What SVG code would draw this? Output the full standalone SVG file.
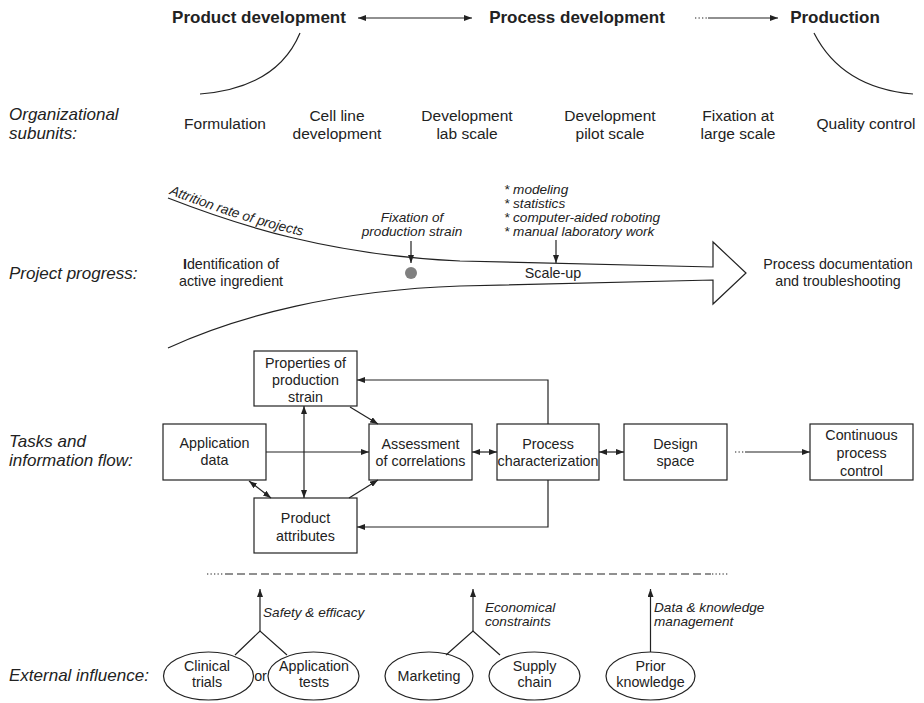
<svg xmlns="http://www.w3.org/2000/svg" width="924" height="703" viewBox="0 0 924 703">
<style>
text{font-family:"Liberation Sans",Arial,sans-serif;fill:#222}
.b{font-weight:bold;font-size:17px}
.lbl{font-style:italic;font-size:17px}
.org{font-size:15.5px;text-anchor:middle}
.t{font-size:14.3px;text-anchor:middle}
.it{font-style:italic;font-size:13.6px}
.itc{font-style:italic;font-size:13.6px;text-anchor:middle}
.ln{fill:none;stroke:#222;stroke-width:1.2}
.box{fill:#fff;stroke:#222;stroke-width:1.2}
.arr{fill:none;stroke:#222;stroke-width:1.2;marker-end:url(#ah)}
.dbl{fill:none;stroke:#222;stroke-width:1.2;marker-end:url(#ah);marker-start:url(#ah)}
.dot{fill:none;stroke:#222;stroke-width:1.2;stroke-dasharray:1.3 2.2}
</style>
<defs>
<marker id="ah" viewBox="0 0 8 6" refX="8" refY="3" markerWidth="8" markerHeight="6" markerUnits="userSpaceOnUse" orient="auto-start-reverse">
<path d="M0,0 L8,3 L0,6 z" fill="#222"/>
</marker>
<path id="attr" d="M169,194 C 241,222 331,251 461,257"/>
</defs>

<!-- Top level -->
<g id="top">
<text class="b" x="259" y="23" text-anchor="middle">Product development</text>
<text class="b" x="577" y="23" text-anchor="middle">Process development</text>
<text class="b" x="835" y="23" text-anchor="middle">Production</text>
<path class="ln" d="M300,33 Q277,88 200,94"/>
<path class="ln" d="M814,33 Q842,88 913,94"/>
</g>

<!-- Left labels -->
<g id="labels">
<text class="lbl" x="9" y="120">Organizational</text>
<text class="lbl" x="9" y="139">subunits:</text>
<text class="lbl" x="9" y="279">Project progress:</text>
<text class="lbl" x="9" y="447">Tasks and</text>
<text class="lbl" x="9" y="466">information flow:</text>
<text class="lbl" x="9" y="681">External influence:</text>
</g>

<!-- Organizational subunits -->
<g id="subunits">
<text class="org" x="225" y="129">Formulation</text>
<text class="org" x="337" y="121">Cell line</text>
<text class="org" x="337" y="139">development</text>
<text class="org" x="467" y="121">Development</text>
<text class="org" x="467" y="139">lab scale</text>
<text class="org" x="610" y="121">Development</text>
<text class="org" x="610" y="139">pilot scale</text>
<text class="org" x="738" y="121">Fixation at</text>
<text class="org" x="738" y="139">large scale</text>
<text class="org" x="866" y="129">Quality control</text>
</g>

<!-- Project progress funnel -->
<g id="funnel">
<path class="ln" d="M168,198 C 240,226 330,255 460,261 L713,267 L713,242 L746,273 L713,304 L713,280 L460,286 C 340,290 240,315 168,348"/>
<text class="it" font-size="14"><textPath href="#attr">Attrition rate of projects</textPath></text>
<text class="t" x="231" y="269"><tspan font-weight="bold">I</tspan>dentification of</text>
<text class="t" x="231" y="286">active ingredient</text>
<text class="itc" x="412" y="221.5">Fixation of</text>
<text class="itc" x="412" y="236">production strain</text>
<circle cx="411" cy="273" r="6" fill="#808080"/>
<text class="it" x="504" y="194">* modeling</text>
<text class="it" x="504" y="208">* statistics</text>
<text class="it" x="504" y="222">* computer-aided roboting</text>
<text class="it" x="504" y="236">* manual laboratory work</text>
<text class="t" x="553" y="278">Scale-up</text>
<text class="t" x="838" y="269">Process documentation</text>
<text class="t" x="838" y="286">and troubleshooting</text>
</g>

<!-- Task nodes -->
<g id="n-properties">
<rect class="box" x="254" y="351" width="103" height="55"/>
<text class="t" x="305.5" y="368">Properties of</text>
<text class="t" x="305.5" y="385">production</text>
<text class="t" x="305.5" y="402">strain</text>
</g>
<g id="n-application">
<rect class="box" x="163" y="424" width="103" height="56"/>
<text class="t" x="214.5" y="448">Application</text>
<text class="t" x="214.5" y="465">data</text>
</g>
<g id="n-assessment">
<rect class="box" x="369" y="424" width="103" height="56"/>
<text class="t" x="420.5" y="449">Assessment</text>
<text class="t" x="420.5" y="466">of correlations</text>
</g>
<g id="n-process">
<rect class="box" x="497" y="424" width="102" height="56"/>
<text class="t" x="548" y="449">Process</text>
<text class="t" x="548" y="466">characterization</text>
</g>
<g id="n-design">
<rect class="box" x="624" y="424" width="103" height="56"/>
<text class="t" x="675.5" y="449">Design</text>
<text class="t" x="675.5" y="466">space</text>
</g>
<g id="n-continuous">
<rect class="box" x="810" y="424" width="103" height="56"/>
<text class="t" x="861.5" y="440">Continuous</text>
<text class="t" x="861.5" y="458">process</text>
<text class="t" x="861.5" y="476">control</text>
</g>
<g id="n-product">
<rect class="box" x="254" y="498" width="103" height="55"/>
<text class="t" x="305.5" y="523">Product</text>
<text class="t" x="305.5" y="541">attributes</text>
</g>

<!-- External influence nodes -->
<g id="n-clinical">
<ellipse class="box" cx="208.5" cy="676" rx="45" ry="24"/>
<text class="t" x="207" y="671">Clinical</text>
<text class="t" x="207" y="687">trials</text>
</g>
<g id="n-apptests">
<ellipse class="box" cx="313.5" cy="676" rx="45.5" ry="24"/>
<text class="t" x="314" y="671">Application</text>
<text class="t" x="314" y="687">tests</text>
</g>
<text class="t" x="260.5" y="681" font-size="13.5">or</text>
<g id="n-marketing">
<ellipse class="box" cx="429" cy="676" rx="44" ry="24"/>
<text class="t" x="429" y="681">Marketing</text>
</g>
<g id="n-supply">
<ellipse class="box" cx="534.5" cy="676" rx="45.5" ry="24"/>
<text class="t" x="534.5" y="671">Supply</text>
<text class="t" x="534.5" y="687">chain</text>
</g>
<g id="n-prior">
<ellipse class="box" cx="650.5" cy="676" rx="44.5" ry="24"/>
<text class="t" x="650.5" y="671">Prior</text>
<text class="t" x="650.5" y="687">knowledge</text>
</g>

<!-- Connectors -->
<g id="connectors">
<path class="dbl" d="M358,18 H472"/>
<path class="dot" d="M695,18 H707"/>
<path class="arr" d="M708,18 H778"/>
<path class="arr" d="M411,241 V263"/>
<path class="arr" d="M556,240 V263"/>
<path class="arr" d="M548,424 V380 H357"/>
<path class="arr" d="M548,480 V527 H357"/>
<path class="arr" d="M266,452 H369"/>
<path class="dbl" d="M472,452 H497"/>
<path class="dbl" d="M599,452 H624"/>
<path class="dot" d="M735,452 H744"/>
<path class="arr" d="M745,452 H810"/>
<path class="dbl" d="M304,406 V498"/>
<path class="arr" d="M350,407 L378,424"/>
<path class="arr" d="M349,498 L378,480"/>
<path class="dbl" d="M249,481 L271,498"/>
<path class="dot" d="M207,574 H223"/>
<path class="ln" d="M225,574 H711" stroke-dasharray="8 4"/>
<path class="dot" d="M712,574 H728"/>
<path class="ln" d="M235,655 L260,631 L287,655"/>
<path class="arr" d="M260,631 V589"/>
<path class="ln" d="M446,655 L473,631 L500,655"/>
<path class="arr" d="M473,631 V589"/>
<path class="arr" d="M650.5,652 V589"/>
</g>

<g id="ext-labels">
<text class="it" x="263" y="617">Safety &amp; efficacy</text>
<text class="it" x="485" y="612">Economical</text>
<text class="it" x="485" y="626">constraints</text>
<text class="it" x="654" y="612">Data &amp; knowledge</text>
<text class="it" x="654" y="626">management</text>
</g>
</svg>
